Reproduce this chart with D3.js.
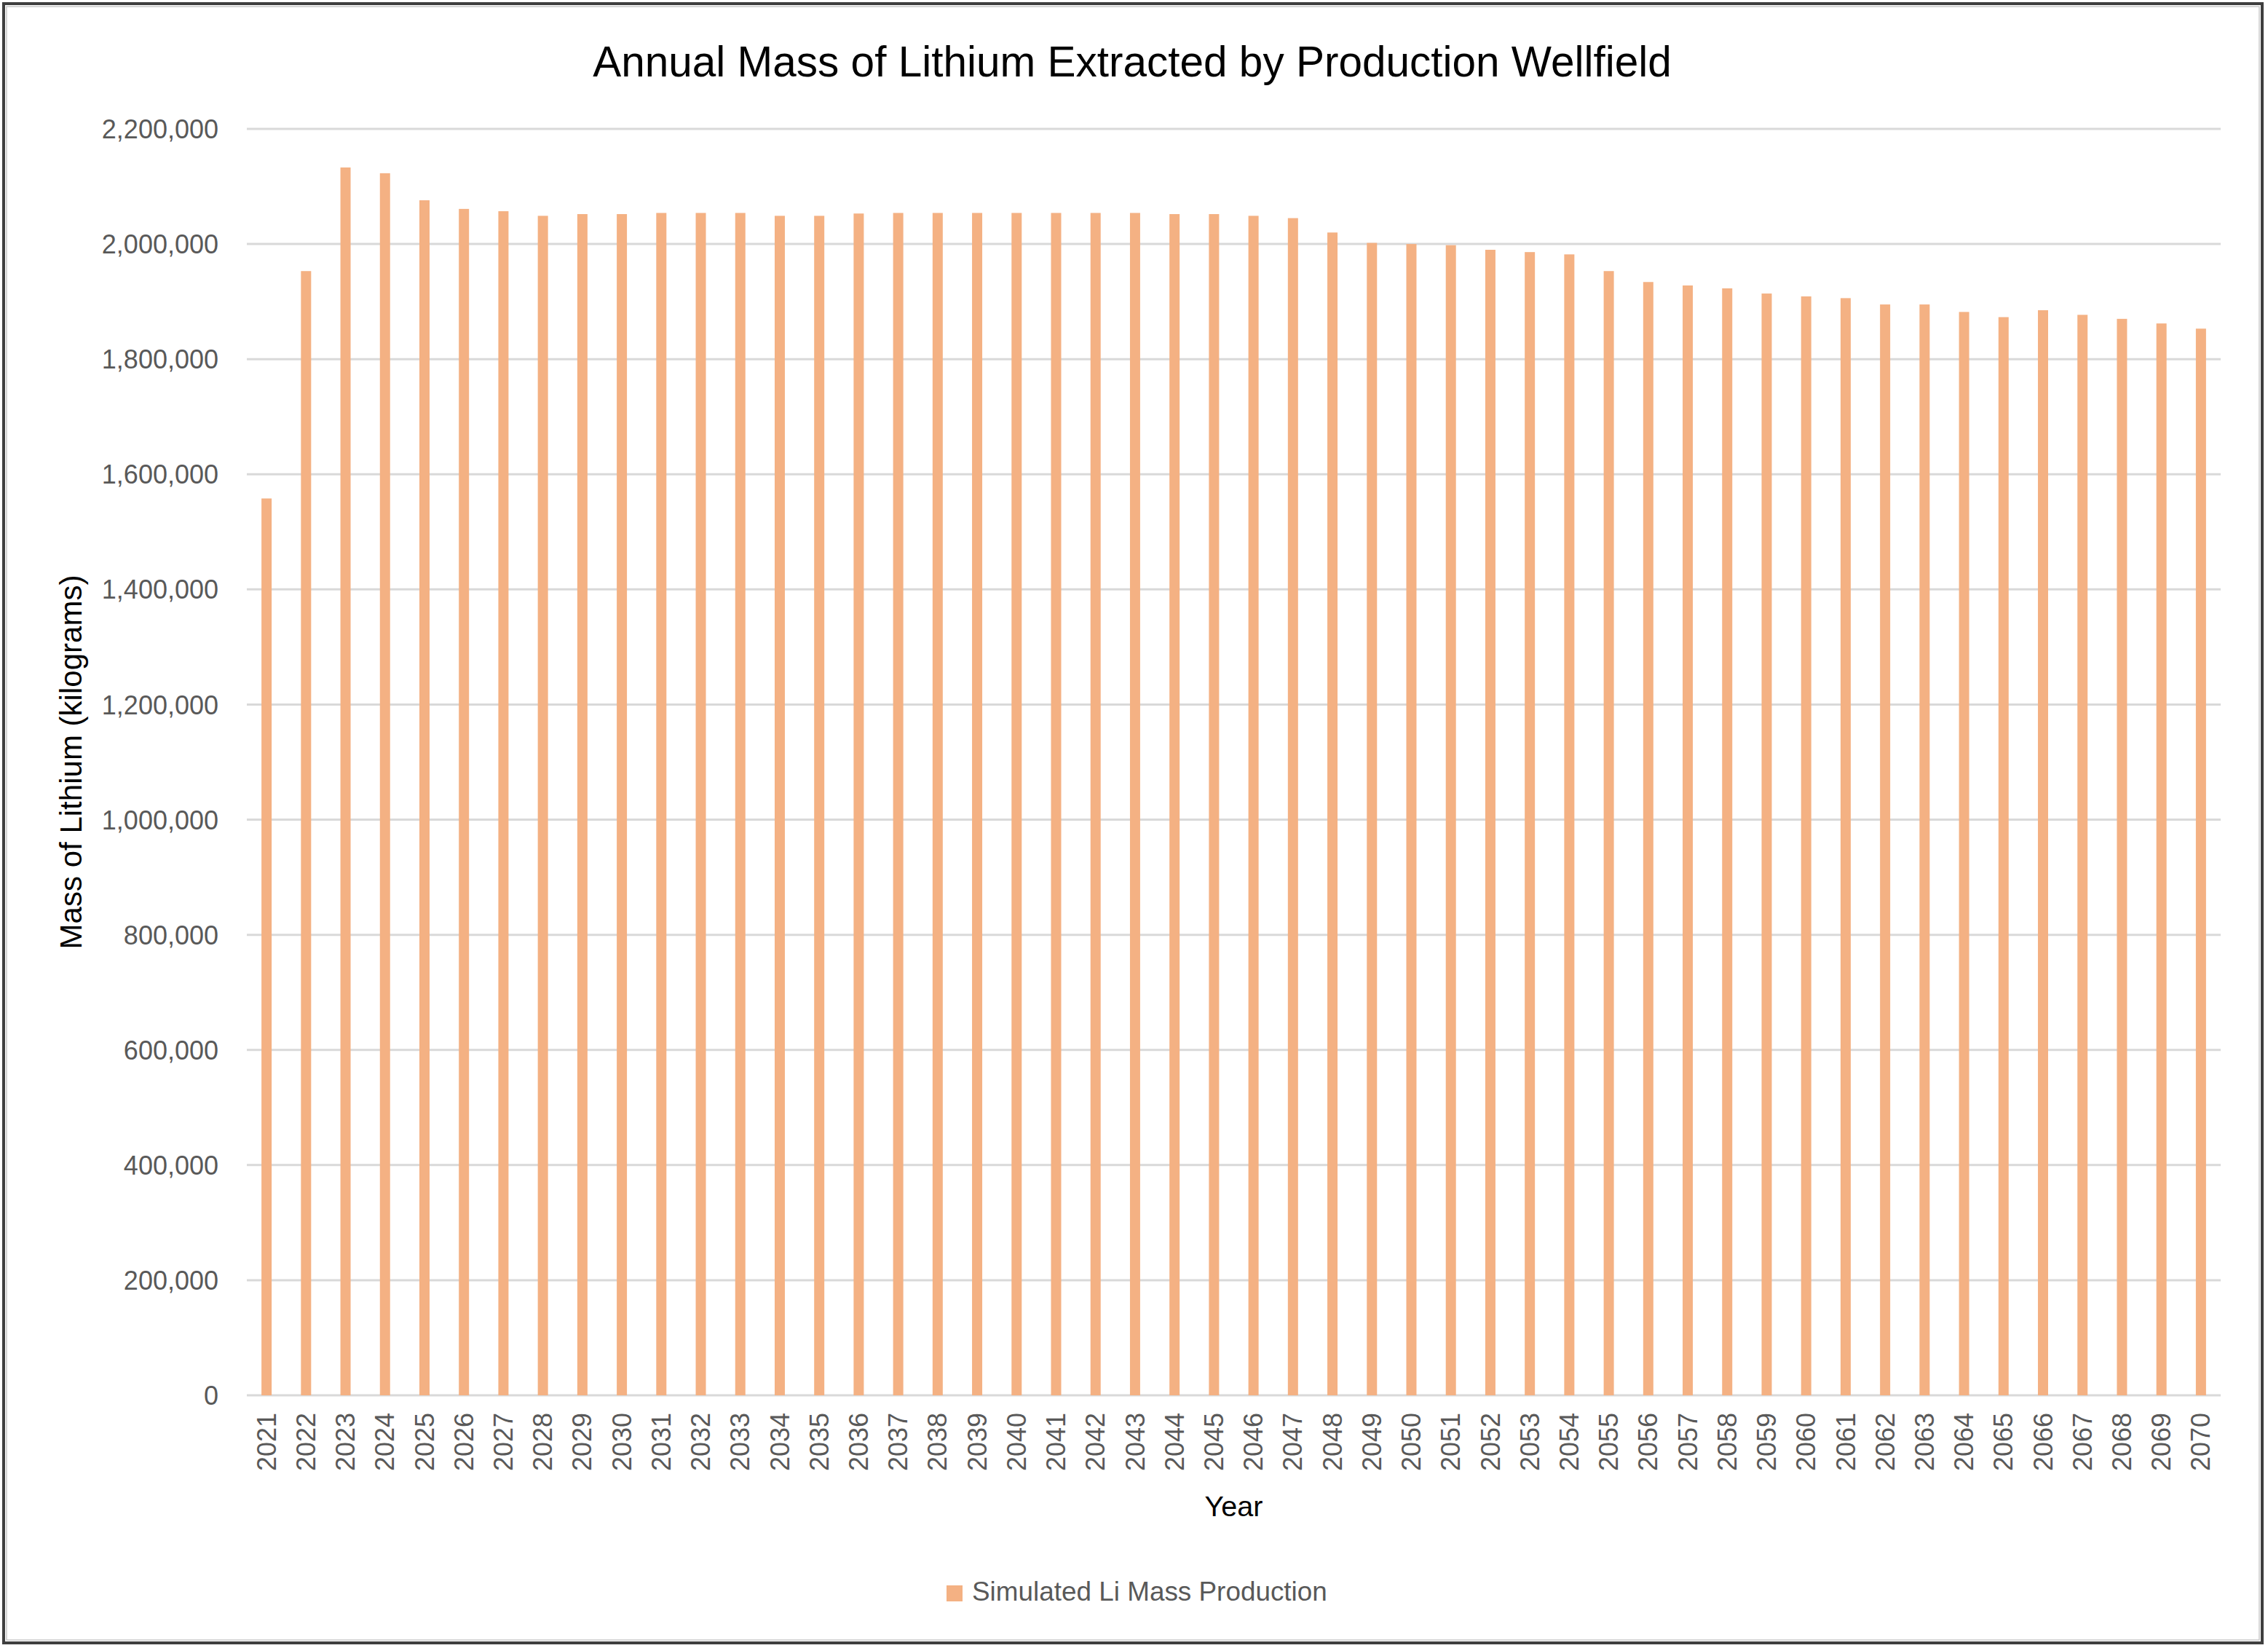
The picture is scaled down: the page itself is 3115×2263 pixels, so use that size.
<!DOCTYPE html>
<html>
<head>
<meta charset="utf-8">
<script src="https://cdn.jsdelivr.net/npm/d3@7"></script>
<style>
  html, body { margin: 0; padding: 0; background: #ffffff; }
  svg { display: block; }
  text { font-family: "Liberation Sans", Arial, sans-serif; }
</style>
</head>
<body>
<svg id="chart" width="3115" height="2263"></svg>
<script>
// ---------------- DATA ----------------
const chartTitle = "Annual Mass of Lithium Extracted by Production Wellfield";
const yAxisTitle = "Mass of Lithium (kilograms)";
const xAxisTitle = "Year";
const seriesName = "Simulated Li Mass Production";

const years = [
  2021, 2022, 2023, 2024, 2025, 2026, 2027, 2028, 2029, 2030,
  2031, 2032, 2033, 2034, 2035, 2036, 2037, 2038, 2039, 2040,
  2041, 2042, 2043, 2044, 2045, 2046, 2047, 2048, 2049, 2050,
  2051, 2052, 2053, 2054, 2055, 2056, 2057, 2058, 2059, 2060,
  2061, 2062, 2063, 2064, 2065, 2066, 2067, 2068, 2069, 2070
];

const liMassKg = [
  1558000, 1953000, 2133000, 2123000, 2076000, 2061000, 2057000, 2049000, 2052000, 2052000,
  2054000, 2054000, 2054000, 2049000, 2049000, 2053000, 2054000, 2054000, 2054000, 2054000,
  2054000, 2054000, 2054000, 2052000, 2052000, 2049000, 2045000, 2020000, 2002000, 2000000,
  1998000, 1990000, 1986000, 1982000, 1953000, 1934000, 1928000, 1923000, 1914000, 1909000,
  1906000, 1895000, 1895000, 1882000, 1873000, 1885000, 1877000, 1870000, 1862000, 1853000
];

const yTicks = [0, 200000, 400000, 600000, 800000, 1000000, 1200000, 1400000,
                1600000, 1800000, 2000000, 2200000];

// ---------------- LAYOUT ----------------
const W = 3115, H = 2263;
const plot = { left: 339, right: 3050, top: 177, bottom: 1916 };
const barColor = "#F4B183";
const gridColor = "#D9D9D9";
const labelColor = "#595959";

const svg = d3.select("#chart");

// outer frame
svg.append("rect")
  .attr("x", 0).attr("y", 0).attr("width", W).attr("height", H)
  .attr("fill", "#ffffff");
svg.append("rect")
  .attr("x", 5).attr("y", 5).attr("width", 3102).attr("height", 2251)
  .attr("fill", "none").attr("stroke", "#3f3f3f").attr("stroke-width", 4);
svg.append("rect")
  .attr("x", 9).attr("y", 9).attr("width", 3094).attr("height", 2243)
  .attr("fill", "none").attr("stroke", "#c8c8c8").attr("stroke-width", 1.5);

// scales
const x = d3.scaleBand()
  .domain(years)
  .range([plot.left, plot.right])
  .paddingInner(0.742)
  .paddingOuter(0.371);

const y = d3.scaleLinear()
  .domain([0, 2200000])
  .range([plot.bottom, plot.top]);

// helper: fit text to a target width
function fitWidth(sel, target) {
  const node = sel.node();
  const fs = parseFloat(sel.attr("font-size"));
  const w = node.getComputedTextLength();
  if (w > 0) sel.attr("font-size", (fs * target / w).toFixed(2));
  return sel;
}

// gridlines
svg.append("g")
  .selectAll("line")
  .data(yTicks)
  .join("line")
  .attr("x1", plot.left).attr("x2", plot.right)
  .attr("y1", d => y(d)).attr("y2", d => y(d))
  .attr("stroke", gridColor)
  .attr("stroke-width", 3);

// bars
svg.append("g")
  .selectAll("rect")
  .data(years.map((yr, i) => ({ yr, v: liMassKg[i] })))
  .join("rect")
  .attr("x", d => x(d.yr))
  .attr("width", x.bandwidth())
  .attr("y", d => y(d.v))
  .attr("height", d => y(0) - y(d.v))
  .attr("fill", barColor);

// Y axis (labels only)
const yAxis = d3.axisLeft(y)
  .tickValues(yTicks)
  .tickFormat(d3.format(","))
  .tickSize(0)
  .tickPadding(39);
const yG = svg.append("g")
  .attr("transform", `translate(${plot.left},0)`)
  .call(yAxis);
yG.select(".domain").remove();
yG.selectAll("text")
  .attr("font-family", "'Liberation Sans', Arial, sans-serif")
  .attr("font-size", 36)
  .attr("fill", labelColor)
  .attr("dy", "0.35em");

// X axis (labels rotated)
const xAxis = d3.axisBottom(x).tickSize(0).tickPadding(0);
const xG = svg.append("g")
  .attr("transform", `translate(0,${plot.bottom})`)
  .call(xAxis);
xG.select(".domain").remove();
xG.selectAll("text")
  .attr("font-family", "'Liberation Sans', Arial, sans-serif")
  .attr("font-size", 36)
  .attr("fill", labelColor)
  .attr("text-anchor", "end")
  .attr("transform", "translate(0,24) rotate(-90)")
  .attr("x", 0).attr("y", 0)
  .attr("dy", "0.35em");

// Title
const title = svg.append("text")
  .attr("x", 1555).attr("y", 105)
  .attr("text-anchor", "middle")
  .attr("font-size", 54)
  .attr("fill", "#000000")
  .text(chartTitle);
fitWidth(title, 1482);

// Y axis title
const yt = svg.append("text")
  .attr("transform", `translate(112,${(plot.top + plot.bottom) / 2}) rotate(-90)`)
  .attr("text-anchor", "middle")
  .attr("font-size", 40)
  .attr("fill", "#000000")
  .text(yAxisTitle);
fitWidth(yt, 514);

// X axis title
const xt = svg.append("text")
  .attr("x", (plot.left + plot.right) / 2).attr("y", 2082)
  .attr("text-anchor", "middle")
  .attr("font-size", 38)
  .attr("fill", "#000000")
  .text(xAxisTitle);
fitWidth(xt, 80);

// Legend
const lg = svg.append("g");
lg.append("rect")
  .attr("x", 1300).attr("y", 2177)
  .attr("width", 22).attr("height", 22)
  .attr("fill", barColor);
const lt = lg.append("text")
  .attr("x", 1335).attr("y", 2198)
  .attr("font-size", 38)
  .attr("fill", labelColor)
  .text(seriesName);
fitWidth(lt, 488);
</script>
</body>
</html>
